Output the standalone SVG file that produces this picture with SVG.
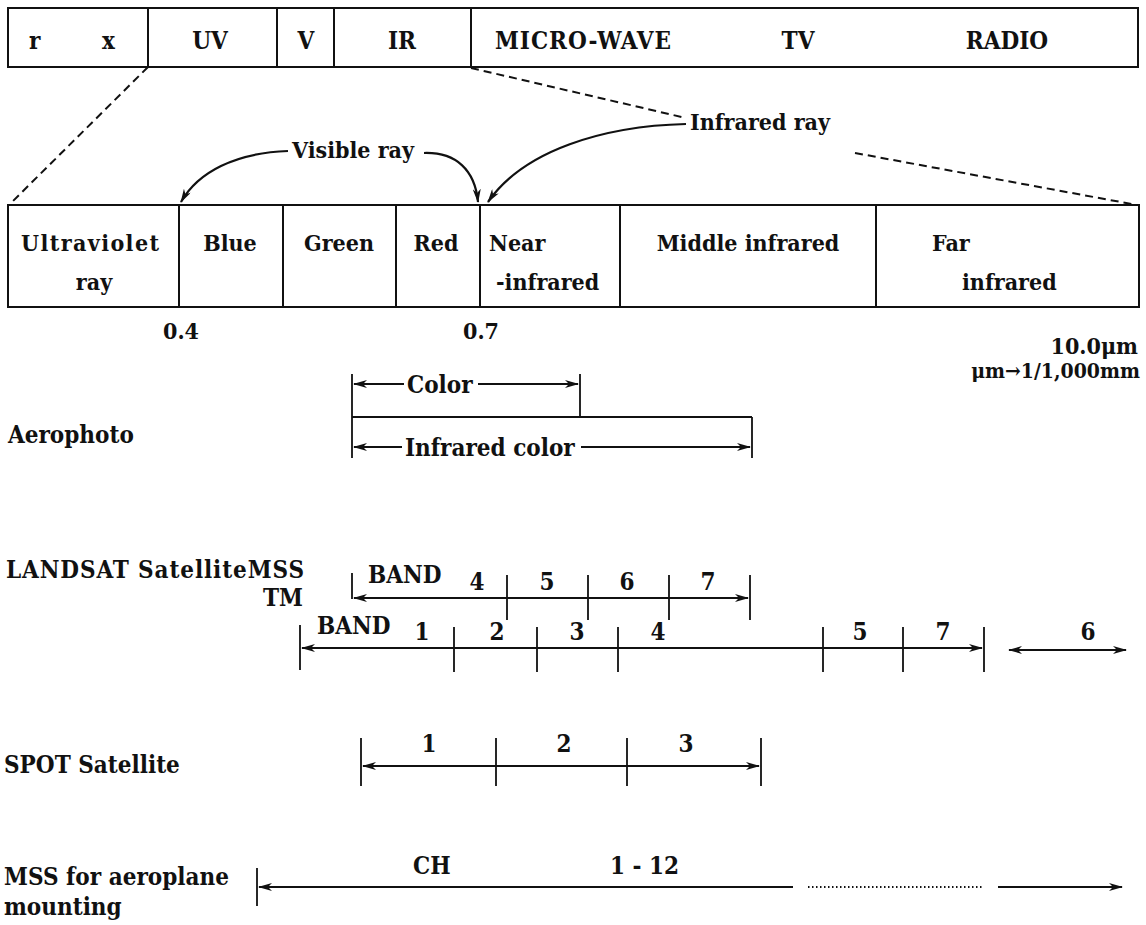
<svg xmlns="http://www.w3.org/2000/svg" width="1146" height="925" viewBox="0 0 1146 925">
<style>
.t{font-family:"DejaVu Serif Condensed","DejaVu Serif",serif;font-stretch:condensed;font-weight:bold;font-size:24px;fill:#111}
.s{font-size:21px}
.m{font-size:23px}
.c{text-anchor:middle}
.e{text-anchor:end}
.box{fill:none;stroke:#111;stroke-width:2}
.ln{fill:none;stroke:#111;stroke-width:2.2}
.tk{fill:none;stroke:#111;stroke-width:1.8}
.dash{fill:none;stroke:#111;stroke-width:2;stroke-dasharray:8 5}
.dot{fill:none;stroke:#111;stroke-width:2;stroke-dasharray:1.5 2.5}
</style>
<defs>
<marker id="ah" viewBox="0 0 14 8" refX="13" refY="4" markerWidth="14" markerHeight="8" markerUnits="userSpaceOnUse" orient="auto-start-reverse">
<path d="M0,0 L14,4 L0,8 L4,4 Z" fill="#111"/>
</marker>
</defs>
<rect width="1146" height="925" fill="#fff"/>

<g id="top-rx"><rect class="box" x="8" y="8" width="140" height="59"/><text class="t" x="29" y="49">r</text><text class="t" x="102" y="49">x</text></g>
<g id="top-uv"><rect class="box" x="148" y="8" width="129" height="59"/><text class="t c" x="210" y="49">UV</text></g>
<g id="top-v"><rect class="box" x="277" y="8" width="57" height="59"/><text class="t c" x="306" y="49">V</text></g>
<g id="top-ir"><rect class="box" x="334" y="8" width="137" height="59"/><text class="t c" x="402" y="49">IR</text></g>
<g id="top-long"><rect class="box" x="471" y="8" width="667" height="59"/><text class="t" x="495" y="49" textLength="176" lengthAdjust="spacing">MICRO-WAVE</text><text class="t c" x="798" y="49">TV</text><text class="t c" x="1007" y="49">RADIO</text></g>

<g id="lbl-visible"><text class="t m" x="292" y="158">Visible ray</text></g>
<g id="lbl-infrared"><text class="t m" x="690" y="130">Infrared ray</text></g>

<g id="cell-uvray"><rect class="box" x="8" y="205" width="171" height="102"/><text class="t m" x="21" y="251" textLength="138" lengthAdjust="spacing">Ultraviolet</text><text class="t m c" x="94" y="290">ray</text></g>
<g id="cell-blue"><rect class="box" x="179" y="205" width="104" height="102"/><text class="t m c" x="230" y="251">Blue</text></g>
<g id="cell-green"><rect class="box" x="283" y="205" width="113" height="102"/><text class="t m c" x="339" y="251">Green</text></g>
<g id="cell-red"><rect class="box" x="396" y="205" width="84" height="102"/><text class="t m c" x="436" y="251">Red</text></g>
<g id="cell-near"><rect class="box" x="480" y="205" width="140" height="102"/><text class="t m" x="489" y="251">Near</text><text class="t m" x="496" y="290">-infrared</text></g>
<g id="cell-middle"><rect class="box" x="620" y="205" width="256" height="102"/><text class="t m c" x="748" y="251">Middle infrared</text></g>
<g id="cell-far"><rect class="box" x="876" y="205" width="263" height="102"/><text class="t m" x="932" y="251">Far</text><text class="t m" x="962" y="290">infrared</text></g>

<g id="scale-labels">
<text class="t m c" x="181" y="339">0.4</text>
<text class="t m c" x="481" y="339">0.7</text>
<text class="t m e" x="1138" y="354">10.0μm</text>
<text class="t s e" x="1140" y="378">μm→1/1,000mm</text>
</g>

<g id="connectors">
<path class="dash" d="M148,67 L10,204"/>
<path class="dash" d="M471,68 L686,118"/>
<path class="dash" d="M855,153 L1137,205"/>
<path class="ln" d="M288,151 C235,153 198,172 181,202" marker-end="url(#ah)"/>
<path class="ln" d="M424,153 C456,152 475,170 478,202" marker-end="url(#ah)"/>
<path class="ln" d="M686,124 C604,126 524,150 488,202" marker-end="url(#ah)"/>
</g>

<g id="aerophoto">
<text class="t" x="8" y="443">Aerophoto</text>
<path class="tk" d="M352,374 V458 M580,374 V417 M752,417 V458"/>
<path class="ln" d="M352,417 H752"/>
<path class="ln" d="M404,384 H354" marker-end="url(#ah)"/>
<text class="t" x="407" y="393">Color</text>
<path class="ln" d="M478,384 H578" marker-end="url(#ah)"/>
<path class="ln" d="M402,447 H354" marker-end="url(#ah)"/>
<text class="t" x="405" y="456">Infrared color</text>
<path class="ln" d="M581,447 H750" marker-end="url(#ah)"/>
</g>

<g id="landsat-label">
<text class="t" x="6" y="578" textLength="298" lengthAdjust="spacing">LANDSAT SatelliteMSS</text>
<text class="t e" x="303" y="606">TM</text>
</g>

<g id="landsat-mss">
<path class="tk" d="M352,573 V599 M507,575 V620 M588,575 V620 M669,575 V620 M750,575 V620"/>
<path class="ln" d="M354,598 H748" marker-start="url(#ah)" marker-end="url(#ah)"/>
<text class="t" x="368" y="583">BAND</text>
<text class="t c" x="477" y="590">4</text>
<text class="t c" x="547" y="590">5</text>
<text class="t c" x="627" y="590">6</text>
<text class="t c" x="708" y="590">7</text>
</g>

<g id="landsat-tm">
<path class="tk" d="M300,625 V670 M454,627 V672 M537,627 V672 M618,627 V672 M823,627 V672 M903,627 V672 M984,627 V672"/>
<path class="ln" d="M302,648 H982" marker-start="url(#ah)" marker-end="url(#ah)"/>
<text class="t" x="317" y="634">BAND</text>
<text class="t c" x="422" y="640">1</text>
<text class="t c" x="497" y="640">2</text>
<text class="t c" x="577" y="640">3</text>
<text class="t c" x="658" y="640">4</text>
<text class="t c" x="860" y="640">5</text>
<text class="t c" x="943" y="640">7</text>
<path class="ln" d="M1009,650 H1126" marker-start="url(#ah)" marker-end="url(#ah)"/>
<text class="t c" x="1088" y="640">6</text>
</g>

<g id="spot">
<text class="t" x="4" y="773">SPOT Satellite</text>
<path class="tk" d="M361,738 V786 M496,738 V786 M627,738 V786 M761,738 V786"/>
<path class="ln" d="M363,766 H759" marker-start="url(#ah)" marker-end="url(#ah)"/>
<text class="t c" x="429" y="752">1</text>
<text class="t c" x="564" y="752">2</text>
<text class="t c" x="686" y="752">3</text>
</g>

<g id="mss-aeroplane">
<text class="t" x="4" y="885">MSS for aeroplane</text>
<text class="t" x="4" y="915">mounting</text>
<path class="tk" d="M257,868 V906"/>
<path class="ln" d="M793,887 H259" marker-end="url(#ah)"/>
<path class="dot" d="M808,887 H983"/>
<path class="ln" d="M998,887 H1122" marker-end="url(#ah)"/>
<text class="t" x="413" y="874">CH</text>
<text class="t" x="610" y="874">1 - 12</text>
</g>
</svg>
